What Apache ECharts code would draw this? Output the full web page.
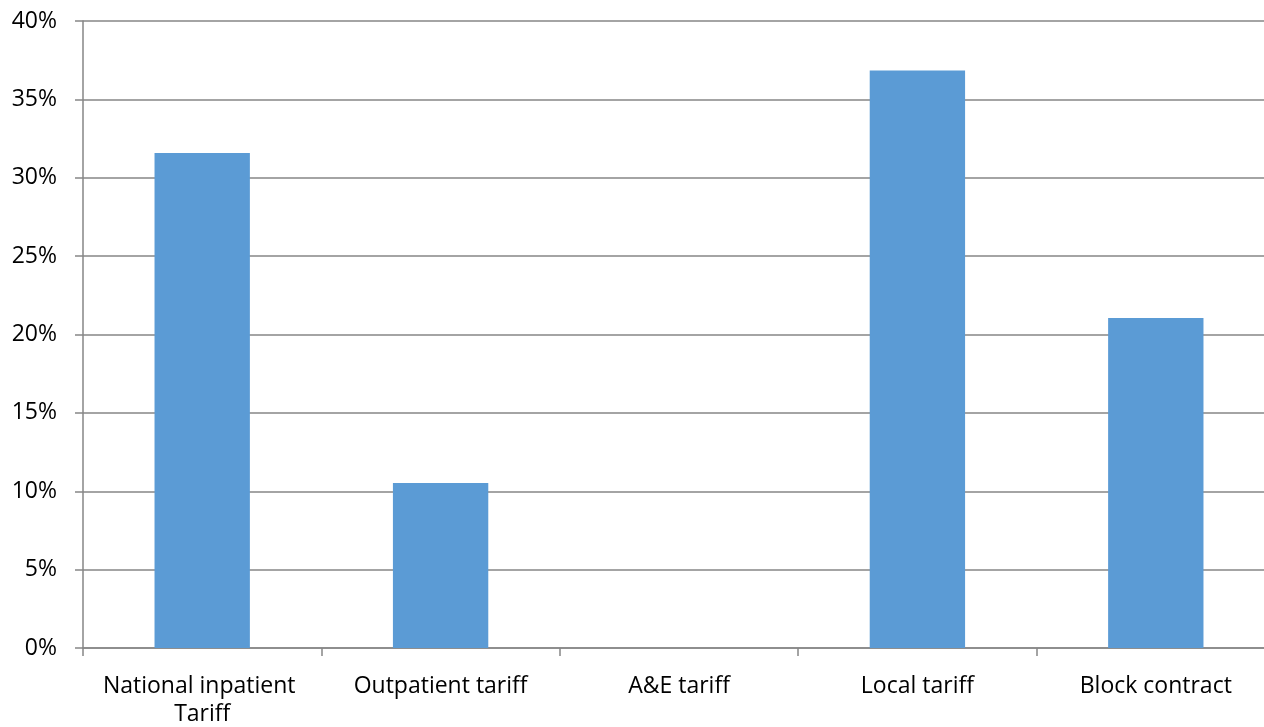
<!DOCTYPE html>
<html><head><meta charset="utf-8">
<script src="https://cdn.jsdelivr.net/npm/echarts@6/dist/echarts.min.js"></script>
<style>html,body{margin:0;padding:0;background:#fff}#c{width:1264px;height:727px}</style>
</head><body><div id="c"></div>
<script>
const categories = ["National inpatient Tariff", "Outpatient tariff", "A&E tariff", "Local tariff", "Block contract"];
const values = [0.3158, 0.1053, 0, 0.3684, 0.2105];
const yTicks = { min: 0, max: 0.4, interval: 0.05 };

const chart = echarts.init(document.getElementById('c'));
const font = '"Open Sans", "Liberation Sans", sans-serif';
const axisGray = '#868686';
chart.setOption({
  animation: false,
  backgroundColor: '#fff',
  grid: { left: 83, width: 1192, top: 21, bottom: 79, containLabel: false, outerBoundsMode: 'none' },
  xAxis: {
    type: 'category',
    data: categories,
    axisLine: { lineStyle: { color: axisGray, width: 1.5 } },
    axisTick: { show: true, length: 8, lineStyle: { color: axisGray, width: 1.5 } },
    axisLabel: { interval: 0, color: '#000', fontFamily: font, fontSize: 23, margin: 24, width: 225, overflow: 'break', lineHeight: 28 }
  },
  yAxis: {
    type: 'value',
    min: yTicks.min, max: yTicks.max, interval: yTicks.interval,
    axisLine: { show: true, lineStyle: { color: axisGray, width: 1.5 } },
    axisTick: { show: true, length: 8, lineStyle: { color: axisGray, width: 1.5 } },
    splitLine: { show: true, lineStyle: { color: axisGray, width: 1.5 } },
    axisLabel: { color: '#000', fontFamily: font, fontSize: 23, margin: 26,
      formatter: v => Math.round(v * 100) + '%' }
  },
  series: [{
    type: 'bar',
    data: values,
    barWidth: '40%',
    itemStyle: { color: '#5B9BD5' }
  }]
});
</script></body></html>
